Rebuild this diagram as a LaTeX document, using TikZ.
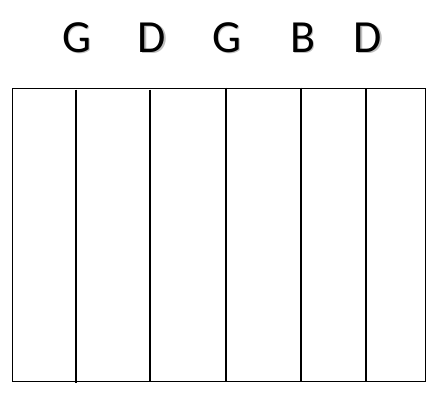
\documentclass[tikz,border=0pt]{standalone}
\usepackage{fontspec}
\setmainfont{Carlito}
\usetikzlibrary{positioning}

\begin{document}
\begin{tikzpicture}[x=1bp,y=-1bp,
letter/.style={font=\fontsize{46bp}{46bp}\selectfont,inner sep=0pt,anchor=base},
shade/.style={letter,text=black!25},
fret/.style={line width=1.8bp}]
\useasboundingbox (0,0) rectangle (439,402);

% string names, with a light shadow
\foreach \x/\n in {77/G,152/D,227/G,303/B,368/D}{
\node[shade] at (\x+1.5,53.5){\n};
}
\node[letter](G1) at (77,52){G};
\node[letter](D1) at (152,52){D};
\node[letter](G2) at (227,52){G};
\node[letter](B1) at (303,52){B};
\node[letter](D2) at (368,52){D};

% the box
\draw[line width=1bp] (12.5,88.5) rectangle (425.5,381);

% string lines
\draw[fret] (76,89.5) -- (76,383);
\draw[fret] (150,89.5) -- (150,382);
\draw[fret] (226,87.5) -- (226,381);
\draw[fret] (300.7,87.5) -- (300.7,381);
\draw[fret] (365.7,88) -- (365.7,381);
\end{tikzpicture}
\end{document}
